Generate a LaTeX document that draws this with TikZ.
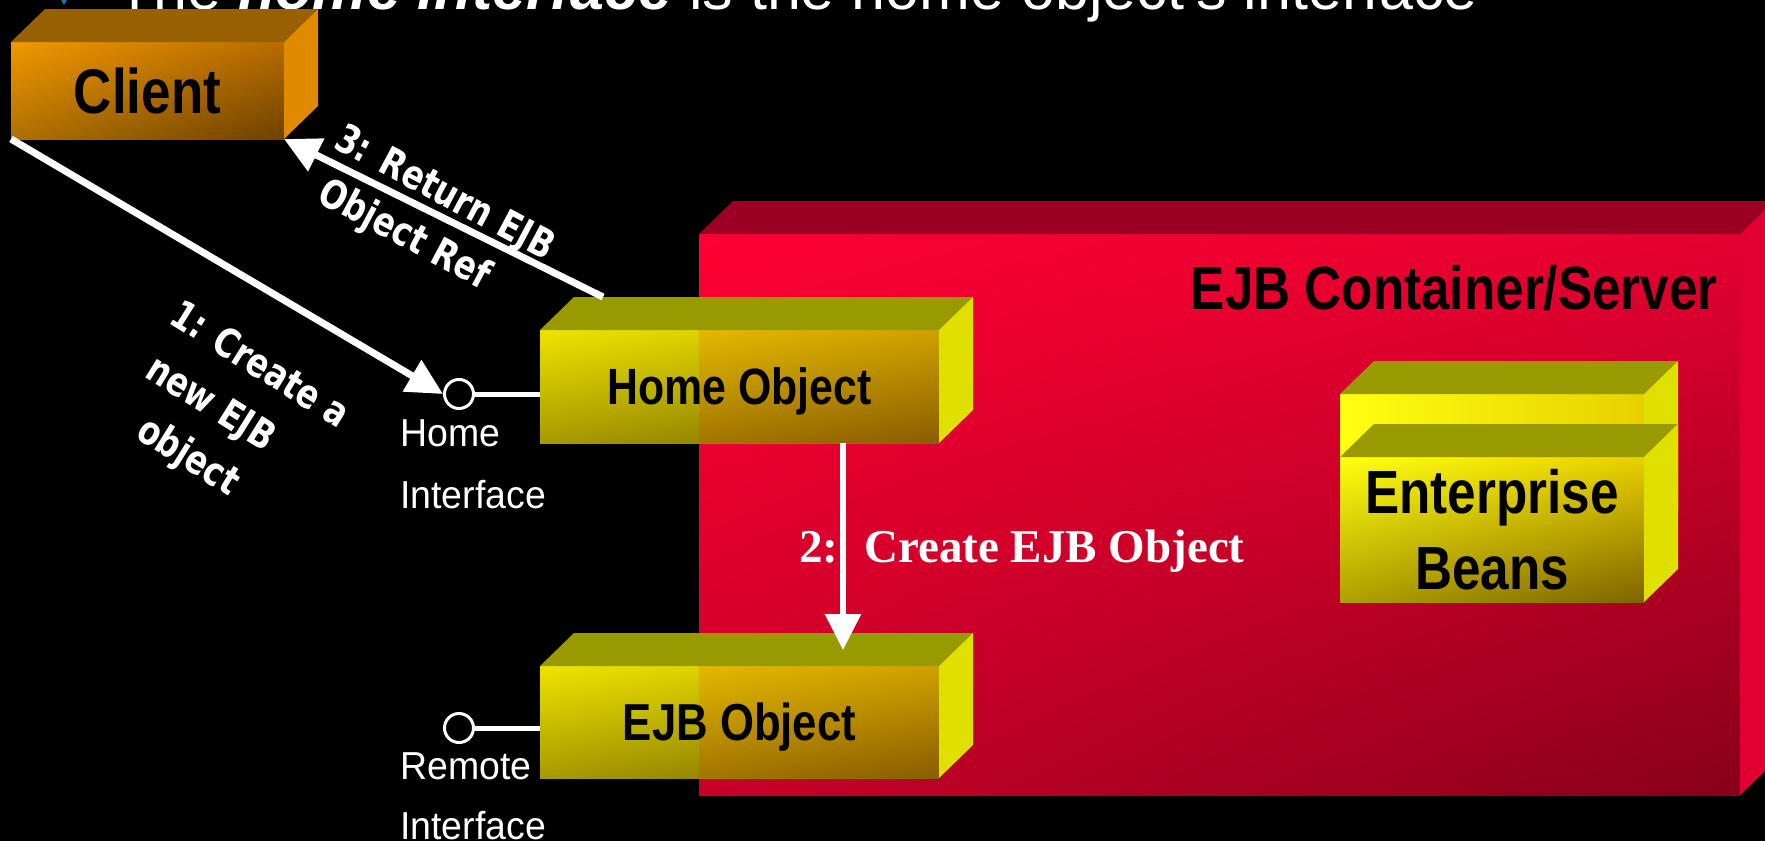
\documentclass[tikz,border=0pt]{standalone}
\usepackage{fontspec}
\setmainfont{Liberation Sans}
\newfontfamily\boxfont[FakeStretch=0.84]{Liberation Sans}
\newfontfamily\ifacefont[FakeStretch=0.96]{Liberation Sans}
\newfontfamily\labfont[FakeStretch=0.8]{DejaVu Sans}
\newfontfamily\serfont{Liberation Serif}
\usetikzlibrary{arrows.meta,shadings}
\definecolor{cUL}{HTML}{FF0033}
\definecolor{cUR}{HTML}{E40030}
\definecolor{cLL}{HTML}{C80028}
\definecolor{cLR}{HTML}{880018}
\definecolor{ctop}{HTML}{9B0022}
\definecolor{cside}{HTML}{E00032}
\definecolor{oUL}{HTML}{F09800}
\definecolor{oUR}{HTML}{B86C00}
\definecolor{oLL}{HTML}{B07000}
\definecolor{oLR}{HTML}{6E4200}
\definecolor{otop}{HTML}{996000}
\definecolor{oside}{HTML}{E08A00}
\definecolor{yUL}{HTML}{EEE400}
\definecolor{yUR}{HTML}{C8B800}
\definecolor{yLL}{HTML}{A89A00}
\definecolor{yLR}{HTML}{7A6A00}
\definecolor{ytop}{HTML}{999900}
\definecolor{yside}{HTML}{E0E000}
\definecolor{bUL}{HTML}{FFFF10}
\definecolor{bUR}{HTML}{E8D000}
\definecolor{bLL}{HTML}{B0A000}
\definecolor{bLR}{HTML}{7E6400}
\definecolor{bulletblue}{HTML}{1E78C0}
\newcommand\cubefaces[3]{%
  \fill[#2] (#1.north west) -- ([shift={(34,-33)}]#1.north west) -- ([shift={(34,-33)}]#1.north east) -- (#1.north east) -- cycle;
  \fill[#3] (#1.north east) -- ([shift={(34,-33)}]#1.north east) -- ([shift={(34,-33)}]#1.south east) -- (#1.south east) -- cycle;}
\begin{document}
\begin{tikzpicture}[x=1pt,y=-1pt,
  frontbox/.style={inner sep=0pt, outer sep=0pt, text=black, text depth=0pt, shade},
  orangefront/.style={frontbox, upper left=oUL, upper right=oUR, lower left=oLL, lower right=oLR},
  yellowfront/.style={frontbox, upper left=yUL, upper right=yUR, lower left=yLL, lower right=yLR,
     path picture={\fill[red,opacity=0.12] (container.west |- path picture bounding box.north) rectangle (path picture bounding box.south east);}},
  beanfront/.style={frontbox, upper left=bUL, upper right=bUR, lower left=bLL, lower right=bLR},
  iface/.style={circle, draw=white, fill=black, line width=3pt, minimum size=29pt, inner sep=0pt},
  ifline/.style={white, line width=5pt},
  arr/.style={white, line width=7pt, -{Triangle[length=36pt,width=35pt]}},
  lab/.style={text=white, inner sep=0pt, anchor=base west, font=\labfont\bfseries\fontsize{40}{44}\selectfont},
  ifacelab/.style={text=white, align=left, inner sep=0pt, anchor=north west}]
\useasboundingbox (0,0) rectangle (1765,841);
\clip (0,0) rectangle (1765,841);
\fill[black] (0,0) rectangle (1765,841);

% title (cut off at the top)
\fill[bulletblue] (64,5) -- (58,-6) -- (64,-17) -- (70,-6) -- cycle;
\node[anchor=base west, text=white, inner sep=0pt, font=\fontsize{61}{70}\selectfont] (title) at (116,9)
  {The \textbf{\textit{home interface}} is the home object's interface};

% container
\node[frontbox, minimum width=1041, minimum height=561,
  upper left=cUL, upper right=cUR, lower left=cLL, lower right=cLR] (container) at (1219.5,514.5) {};
\cubefaces{container}{ctop}{cside}
\node[anchor=base east, inner sep=0pt, text=black, font=\boxfont\bfseries\fontsize{61}{70}\selectfont] (contlabel) at (1718,309) {EJB Container/Server};

% client
\node[orangefront, minimum width=273, minimum height=97, font=\boxfont\bfseries\fontsize{63}{70}\selectfont] (client) at (147.5,90.5) {Client};
\cubefaces{client}{otop}{oside}

% home object
\node[yellowfront, minimum width=399, minimum height=113, font=\boxfont\bfseries\fontsize{51}{60}\selectfont] (home) at (739.5,386.5) {Home Object};
\cubefaces{home}{ytop}{yside}

% EJB object
\node[yellowfront, minimum width=399, minimum height=112, font=\boxfont\bfseries\fontsize{52}{60}\selectfont] (ejbobj) at (739.5,722) {EJB Object};
\cubefaces{ejbobj}{ytop}{yside}

% enterprise beans (two stacked boxes)
\node[frontbox, minimum width=304, minimum height=150,
  upper left=bUL, upper right=bUR, lower left=bUL, lower right=bUR] (beansback) at (1492,469) {};
\cubefaces{beansback}{ytop}{yside}
\node[beanfront, align=center, minimum width=304, minimum height=145, font=\boxfont\bfseries\fontsize{61}{76}\selectfont] (beans) at (1492,529.5) {Enterprise\\Beans};
\cubefaces{beans}{ytop}{yside}

% interfaces
\node[iface] (homeif) at (459,394) {};
\node[iface] (remoteif) at (459,728) {};
\draw[ifline] (homeif) -- (homeif -| home.west);
\draw[ifline] (remoteif) -- (remoteif -| ejbobj.west);
\node[ifacelab, font=\ifacefont\fontsize{39}{62}\selectfont] (homeiflab) at (400,419) {Home\\Interface};
\node[ifacelab, font=\ifacefont\fontsize{39}{60}\selectfont] (remoteiflab) at (400,752) {Remote\\Interface};

% connectors
\coordinate (a3start) at (603,297);
\coordinate (a2end) at (843,650);
\draw[arr] (client.south west) -- (homeif.west);
\draw[arr] (a3start) -- (client.south east);
\draw[arr, line width=6pt] (home.south -| a2end) -- (a2end);

% connector labels
\node[lab, rotate=-32] (lab1a) at (167,322) {1: Create a};
\node[lab, rotate=-32] (lab1b) at (143,376) {new EJB};
\node[lab, rotate=-32] (lab1c) at (134,437) {object};
\node[lab, rotate=-28] (lab3a) at (332,147) {3: Return EJB};
\node[lab, rotate=-28] (lab3b) at (315,201) {Object Ref};
\node[anchor=base west, inner sep=0pt, text=white, font=\serfont\bfseries\fontsize{47}{50}\selectfont] (lab2) at (799,562) {2:\hspace{26pt}Create EJB Object};
\end{tikzpicture}
\end{document}
